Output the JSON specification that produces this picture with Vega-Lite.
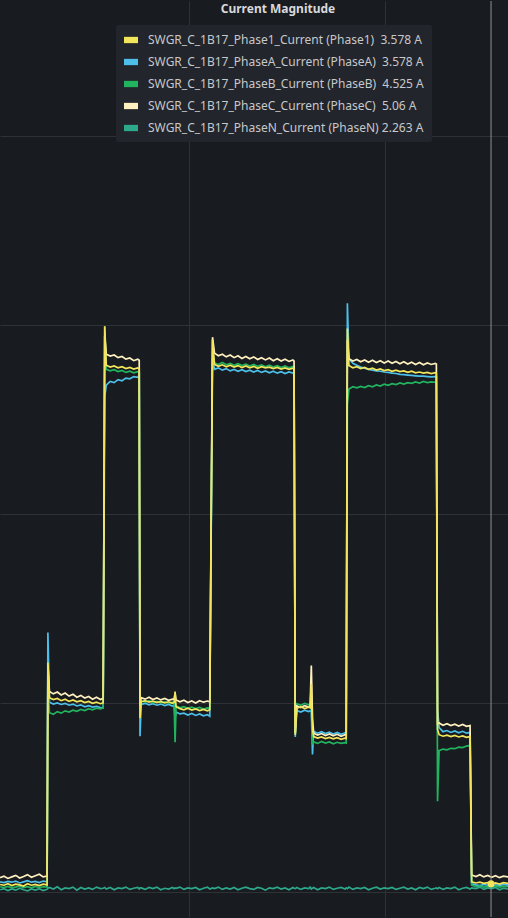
{
  "$schema": "https://vega.github.io/schema/vega-lite/v6.json",
  "width": 508,
  "height": 918,
  "autosize": {"type": "fit", "contains": "padding"},
  "padding": 0,
  "background": "#181b1f",
  "title": {"text": "Current Magnitude", "anchor": "middle", "dx": 24, "offset": -15, "fontSize": 12, "fontWeight": "bold", "color": "#d8d9dc", "font": "Noto Sans"},
  "config": {
    "view": {"stroke": null},
    "axis": {"domain": false, "ticks": false, "labels": false, "title": null, "gridColor": "#2e3136", "gridWidth": 1},
    "legend": {"orient": "none", "legendX": 116, "legendY": 24, "fillColor": "#22252b", "padding": 8, "cornerRadius": 2, "labelFont": "Noto Sans", "labelFontSize": 12, "labelColor": "#c7c8cc", "labelLimit": 400, "symbolType": "M-1,-0.45H1V0.45H-1Z", "symbolSize": 196, "symbolStrokeWidth": 0, "rowPadding": 9, "labelOffset": 10, "title": null}
  },
  "data": {"values": [
    {"t":0.36,"p1":0.20,"a":0.27,"b":0.14,"c":0.38,"n":0.06},
    {"t":0.56,"p1":0.18,"a":0.25,"b":0.12,"c":0.42,"n":0.09},
    {"t":0.76,"p1":0.22,"a":0.28,"b":0.15,"c":0.36,"n":0.04},
    {"t":0.96,"p1":0.17,"a":0.26,"b":0.11,"c":0.40,"n":0.08},
    {"t":1.16,"p1":0.21,"a":0.29,"b":0.13,"c":0.44,"n":0.05},
    {"t":1.36,"p1":0.19,"a":0.24,"b":0.16,"c":0.37,"n":0.10},
    {"t":1.56,"p1":0.16,"a":0.27,"b":0.12,"c":0.41,"n":0.06},
    {"t":1.76,"p1":0.22,"a":0.30,"b":0.14,"c":0.46,"n":0.03},
    {"t":1.96,"p1":0.18,"a":0.26,"b":0.11,"c":0.39,"n":0.08},
    {"t":2.16,"p1":0.20,"a":0.28,"b":0.15,"c":0.43,"n":0.05},
    {"t":2.36,"p1":0.17,"a":0.25,"b":0.12,"c":0.47,"n":0.09},
    {"t":2.56,"p1":0.21,"a":0.29,"b":0.14,"c":0.40,"n":0.04},
    {"t":2.76,"p1":0.19,"a":0.27,"b":0.13,"c":0.42,"n":0.07},
    {"t":2.80,"p1":6.07,"a":6.86,"b":5.60,"c":6.00,"n":0.10},
    {"t":2.88,"p1":5.14,"a":5.02,"b":4.74,"c":5.30,"n":0.12},
    {"t":3.08,"p1":5.09,"a":4.97,"b":4.70,"c":5.24,"n":0.08},
    {"t":3.28,"p1":5.12,"a":5.00,"b":4.77,"c":5.29,"n":0.14},
    {"t":3.48,"p1":5.06,"a":4.96,"b":4.73,"c":5.21,"n":0.06},
    {"t":3.68,"p1":5.10,"a":4.99,"b":4.79,"c":5.26,"n":0.11},
    {"t":3.88,"p1":5.04,"a":4.94,"b":4.76,"c":5.18,"n":0.09},
    {"t":4.08,"p1":5.08,"a":4.97,"b":4.81,"c":5.23,"n":0.13},
    {"t":4.28,"p1":5.03,"a":4.92,"b":4.78,"c":5.15,"n":0.05},
    {"t":4.48,"p1":5.06,"a":4.95,"b":4.83,"c":5.20,"n":0.12},
    {"t":4.68,"p1":5.01,"a":4.90,"b":4.80,"c":5.13,"n":0.08},
    {"t":4.88,"p1":5.04,"a":4.93,"b":4.85,"c":5.17,"n":0.11},
    {"t":5.08,"p1":4.99,"a":4.89,"b":4.82,"c":5.10,"n":0.07},
    {"t":5.28,"p1":5.02,"a":4.91,"b":4.86,"c":5.15,"n":0.13},
    {"t":5.48,"p1":4.98,"a":4.88,"b":4.84,"c":5.09,"n":0.09},
    {"t":5.62,"p1":5.00,"a":4.87,"b":4.87,"c":5.12,"n":0.10},
    {"t":5.70,"p1":14.96,"a":13.09,"b":14.96,"c":14.70,"n":0.12},
    {"t":5.78,"p1":13.93,"a":13.40,"b":13.82,"c":14.22,"n":0.08},
    {"t":5.98,"p1":13.88,"a":13.50,"b":13.78,"c":14.17,"n":0.12},
    {"t":6.18,"p1":13.91,"a":13.47,"b":13.81,"c":14.20,"n":0.06},
    {"t":6.38,"p1":13.86,"a":13.55,"b":13.76,"c":14.13,"n":0.11},
    {"t":6.58,"p1":13.89,"a":13.52,"b":13.79,"c":14.16,"n":0.09},
    {"t":6.78,"p1":13.84,"a":13.59,"b":13.74,"c":14.09,"n":0.13},
    {"t":6.98,"p1":13.87,"a":13.57,"b":13.77,"c":14.12,"n":0.07},
    {"t":7.18,"p1":13.83,"a":13.63,"b":13.73,"c":14.05,"n":0.10},
    {"t":7.38,"p1":13.86,"a":13.61,"b":13.76,"c":14.09,"n":0.12},
    {"t":7.46,"p1":13.84,"a":13.66,"b":13.74,"c":14.06,"n":0.08},
    {"t":7.50,"p1":4.60,"a":4.12,"b":4.90,"c":4.90,"n":0.11},
    {"t":7.56,"p1":5.03,"a":4.96,"b":5.05,"c":5.14,"n":0.11},
    {"t":7.76,"p1":5.06,"a":4.99,"b":5.02,"c":5.10,"n":0.07},
    {"t":7.96,"p1":5.02,"a":4.95,"b":5.06,"c":5.15,"n":0.12},
    {"t":8.16,"p1":5.05,"a":4.98,"b":5.01,"c":5.09,"n":0.09},
    {"t":8.36,"p1":5.01,"a":4.94,"b":5.04,"c":5.13,"n":0.13},
    {"t":8.56,"p1":5.04,"a":4.97,"b":5.00,"c":5.08,"n":0.06},
    {"t":8.76,"p1":5.00,"a":4.93,"b":5.03,"c":5.12,"n":0.10},
    {"t":8.96,"p1":5.03,"a":4.96,"b":4.99,"c":5.07,"n":0.08},
    {"t":9.16,"p1":4.99,"a":4.92,"b":5.02,"c":5.10,"n":0.12},
    {"t":9.24,"p1":5.01,"a":4.94,"b":5.00,"c":5.09,"n":0.09},
    {"t":9.29,"p1":5.30,"a":4.60,"b":3.96,"c":5.25,"n":0.11},
    {"t":9.34,"p1":4.90,"a":4.76,"b":4.92,"c":5.08,"n":0.10},
    {"t":9.54,"p1":4.85,"a":4.71,"b":4.87,"c":5.03,"n":0.13},
    {"t":9.74,"p1":4.82,"a":4.73,"b":4.90,"c":5.07,"n":0.07},
    {"t":9.94,"p1":4.86,"a":4.68,"b":4.86,"c":5.01,"n":0.11},
    {"t":10.14,"p1":4.81,"a":4.72,"b":4.89,"c":5.05,"n":0.09},
    {"t":10.34,"p1":4.84,"a":4.67,"b":4.85,"c":5.00,"n":0.12},
    {"t":10.54,"p1":4.80,"a":4.71,"b":4.88,"c":5.06,"n":0.06},
    {"t":10.74,"p1":4.83,"a":4.66,"b":4.84,"c":5.02,"n":0.10},
    {"t":10.94,"p1":4.79,"a":4.69,"b":4.87,"c":5.05,"n":0.13},
    {"t":11.06,"p1":4.82,"a":4.65,"b":4.86,"c":5.03,"n":0.08},
    {"t":11.20,"p1":14.60,"a":14.10,"b":14.30,"c":14.67,"n":0.11},
    {"t":11.30,"p1":13.95,"a":13.82,"b":13.99,"c":14.25,"n":0.09},
    {"t":11.50,"p1":13.90,"a":13.86,"b":13.95,"c":14.18,"n":0.13},
    {"t":11.70,"p1":13.94,"a":13.80,"b":14.00,"c":14.22,"n":0.07},
    {"t":11.90,"p1":13.89,"a":13.84,"b":13.94,"c":14.15,"n":0.11},
    {"t":12.10,"p1":13.93,"a":13.78,"b":13.98,"c":14.20,"n":0.08},
    {"t":12.30,"p1":13.88,"a":13.82,"b":13.93,"c":14.13,"n":0.12},
    {"t":12.50,"p1":13.92,"a":13.77,"b":13.97,"c":14.18,"n":0.06},
    {"t":12.70,"p1":13.87,"a":13.81,"b":13.92,"c":14.11,"n":0.10},
    {"t":12.90,"p1":13.91,"a":13.76,"b":13.96,"c":14.16,"n":0.13},
    {"t":13.10,"p1":13.86,"a":13.80,"b":13.91,"c":14.10,"n":0.09},
    {"t":13.30,"p1":13.90,"a":13.75,"b":13.95,"c":14.15,"n":0.07},
    {"t":13.50,"p1":13.85,"a":13.79,"b":13.90,"c":14.08,"n":0.12},
    {"t":13.70,"p1":13.89,"a":13.74,"b":13.94,"c":14.13,"n":0.10},
    {"t":13.90,"p1":13.86,"a":13.78,"b":13.89,"c":14.07,"n":0.05},
    {"t":14.10,"p1":13.88,"a":13.73,"b":13.93,"c":14.12,"n":0.11},
    {"t":14.30,"p1":13.84,"a":13.77,"b":13.88,"c":14.05,"n":0.09},
    {"t":14.50,"p1":13.87,"a":13.72,"b":13.92,"c":14.10,"n":0.13},
    {"t":14.70,"p1":13.83,"a":13.76,"b":13.87,"c":14.04,"n":0.08},
    {"t":14.90,"p1":13.86,"a":13.71,"b":13.91,"c":14.09,"n":0.11},
    {"t":15.10,"p1":13.82,"a":13.75,"b":13.86,"c":14.03,"n":0.06},
    {"t":15.30,"p1":13.85,"a":13.72,"b":13.90,"c":14.07,"n":0.12},
    {"t":15.36,"p1":13.83,"a":13.74,"b":13.88,"c":14.04,"n":0.10},
    {"t":15.42,"p1":4.15,"a":4.10,"b":4.20,"c":4.20,"n":0.09},
    {"t":15.50,"p1":4.86,"a":4.80,"b":4.98,"c":4.92,"n":0.12},
    {"t":15.70,"p1":4.90,"a":4.76,"b":4.94,"c":4.88,"n":0.07},
    {"t":15.90,"p1":4.85,"a":4.81,"b":4.99,"c":4.93,"n":0.11},
    {"t":16.10,"p1":4.89,"a":4.77,"b":4.95,"c":4.89,"n":0.09},
    {"t":16.18,"p1":4.87,"a":4.79,"b":4.97,"c":4.91,"n":0.13},
    {"t":16.24,"p1":5.50,"a":4.80,"b":5.00,"c":5.99,"n":0.08},
    {"t":16.30,"p1":4.30,"a":3.64,"b":3.90,"c":4.60,"n":0.10},
    {"t":16.36,"p1":4.11,"a":4.25,"b":3.97,"c":4.20,"n":0.12},
    {"t":16.56,"p1":4.07,"a":4.20,"b":3.93,"c":4.15,"n":0.06},
    {"t":16.76,"p1":4.10,"a":4.24,"b":3.98,"c":4.19,"n":0.11},
    {"t":16.96,"p1":4.06,"a":4.19,"b":3.94,"c":4.14,"n":0.09},
    {"t":17.16,"p1":4.09,"a":4.23,"b":3.97,"c":4.18,"n":0.13},
    {"t":17.36,"p1":4.05,"a":4.18,"b":3.92,"c":4.13,"n":0.07},
    {"t":17.56,"p1":4.08,"a":4.22,"b":3.96,"c":4.17,"n":0.10},
    {"t":17.76,"p1":4.04,"a":4.17,"b":3.93,"c":4.12,"n":0.12},
    {"t":17.96,"p1":4.07,"a":4.21,"b":3.95,"c":4.16,"n":0.08},
    {"t":18.02,"p1":4.06,"a":4.20,"b":3.94,"c":4.15,"n":0.11},
    {"t":18.08,"p1":14.90,"a":15.57,"b":12.90,"c":14.60,"n":0.09},
    {"t":18.16,"p1":13.92,"a":14.10,"b":13.30,"c":14.10,"n":0.13},
    {"t":18.36,"p1":13.86,"a":13.98,"b":13.36,"c":14.04,"n":0.07},
    {"t":18.56,"p1":13.89,"a":13.93,"b":13.33,"c":14.08,"n":0.11},
    {"t":18.76,"p1":13.84,"a":13.88,"b":13.37,"c":14.02,"n":0.09},
    {"t":18.96,"p1":13.87,"a":13.85,"b":13.34,"c":14.07,"n":0.12},
    {"t":19.16,"p1":13.82,"a":13.82,"b":13.39,"c":14.01,"n":0.06},
    {"t":19.36,"p1":13.85,"a":13.80,"b":13.36,"c":14.06,"n":0.10},
    {"t":19.56,"p1":13.80,"a":13.78,"b":13.41,"c":14.00,"n":0.13},
    {"t":19.76,"p1":13.83,"a":13.77,"b":13.38,"c":14.05,"n":0.08},
    {"t":19.96,"p1":13.79,"a":13.75,"b":13.43,"c":13.99,"n":0.11},
    {"t":20.16,"p1":13.81,"a":13.74,"b":13.40,"c":14.04,"n":0.09},
    {"t":20.36,"p1":13.77,"a":13.72,"b":13.44,"c":13.98,"n":0.12},
    {"t":20.56,"p1":13.80,"a":13.71,"b":13.42,"c":14.03,"n":0.07},
    {"t":20.76,"p1":13.76,"a":13.69,"b":13.46,"c":13.97,"n":0.10},
    {"t":20.96,"p1":13.78,"a":13.68,"b":13.43,"c":14.02,"n":0.13},
    {"t":21.16,"p1":13.74,"a":13.67,"b":13.47,"c":13.96,"n":0.08},
    {"t":21.36,"p1":13.77,"a":13.66,"b":13.45,"c":14.01,"n":0.11},
    {"t":21.56,"p1":13.73,"a":13.65,"b":13.49,"c":13.95,"n":0.06},
    {"t":21.76,"p1":13.75,"a":13.64,"b":13.46,"c":14.00,"n":0.12},
    {"t":21.96,"p1":13.72,"a":13.64,"b":13.50,"c":13.94,"n":0.09},
    {"t":22.16,"p1":13.74,"a":13.63,"b":13.47,"c":13.99,"n":0.13},
    {"t":22.36,"p1":13.71,"a":13.62,"b":13.49,"c":13.95,"n":0.07},
    {"t":22.56,"p1":13.73,"a":13.63,"b":13.48,"c":13.98,"n":0.10},
    {"t":22.62,"p1":13.71,"a":13.62,"b":13.47,"c":13.96,"n":0.11},
    {"t":22.68,"p1":4.30,"a":4.83,"b":2.40,"c":4.45,"n":0.09},
    {"t":22.76,"p1":4.16,"a":4.35,"b":3.74,"c":4.47,"n":0.12},
    {"t":22.96,"p1":4.12,"a":4.24,"b":3.78,"c":4.41,"n":0.07},
    {"t":23.16,"p1":4.15,"a":4.27,"b":3.76,"c":4.45,"n":0.11},
    {"t":23.36,"p1":4.11,"a":4.22,"b":3.80,"c":4.40,"n":0.09},
    {"t":23.56,"p1":4.14,"a":4.26,"b":3.79,"c":4.44,"n":0.13},
    {"t":23.76,"p1":4.10,"a":4.21,"b":3.83,"c":4.39,"n":0.06},
    {"t":23.96,"p1":4.13,"a":4.25,"b":3.82,"c":4.43,"n":0.10},
    {"t":24.16,"p1":4.09,"a":4.20,"b":3.86,"c":4.38,"n":0.12},
    {"t":24.34,"p1":4.11,"a":4.22,"b":3.88,"c":4.40,"n":0.08},
    {"t":24.42,"p1":0.27,"a":0.22,"b":0.18,"c":0.45,"n":0.11},
    {"t":24.64,"p1":0.24,"a":0.19,"b":0.14,"c":0.41,"n":0.09},
    {"t":24.84,"p1":0.26,"a":0.17,"b":0.16,"c":0.46,"n":0.13},
    {"t":25.04,"p1":0.23,"a":0.20,"b":0.13,"c":0.40,"n":0.07},
    {"t":25.24,"p1":0.25,"a":0.18,"b":0.15,"c":0.44,"n":0.11},
    {"t":25.44,"p1":0.22,"a":0.16,"b":0.12,"c":0.39,"n":0.09},
    {"t":25.64,"p1":0.24,"a":0.19,"b":0.16,"c":0.43,"n":0.12},
    {"t":25.84,"p1":0.21,"a":0.17,"b":0.13,"c":0.38,"n":0.06},
    {"t":26.04,"p1":0.25,"a":0.20,"b":0.15,"c":0.42,"n":0.10},
    {"t":26.28,"p1":0.23,"a":0.18,"b":0.14,"c":0.40,"n":0.08}
  ]},
  "layer": [
    {
      "transform": [{"fold": ["a", "b", "c", "n"], "as": ["series", "value"]}],
      "mark": {"type": "line", "strokeWidth": 1.7, "clip": true},
      "encoding": {
        "x": {"field": "t", "type": "quantitative", "scale": {"domain": [0.357, 26.275], "nice": false, "zero": false}, "axis": {"values": [10, 20], "grid": true}},
        "y": {"field": "value", "type": "quantitative", "scale": {"domain": [-0.66, 23.56], "nice": false, "zero": false}, "axis": {"values": [0, 5, 10, 15, 20], "grid": true}},
        "color": {
          "field": "series", "type": "nominal",
          "scale": {"domain": ["p1", "a", "b", "c", "n"], "range": ["#F2E55C", "#4CBFEA", "#22B35E", "#FFF0C0", "#2EA88B"]},
          "legend": {
            "labelExpr": "{'p1':'SWGR_C_1B17_Phase1_Current (Phase1)\u00a0 3.578 A','a':'SWGR_C_1B17_PhaseA_Current (PhaseA)\u00a0 3.578 A','b':'SWGR_C_1B17_PhaseB_Current (PhaseB)\u00a0 4.525 A','c':'SWGR_C_1B17_PhaseC_Current (PhaseC)\u00a0 5.06 A','n':'SWGR_C_1B17_PhaseN_Current (PhaseN) 2.263 A'}[datum.value]",
            "encode": {"symbols": {"update": {"fill": {"scale": "color", "field": "value"}, "fillOpacity": {"value": 1}, "strokeWidth": {"value": 0}}}}
          }
        }
      }
    },
    {
      "transform": [{"fold": ["p1"], "as": ["series", "value"]}],
      "mark": {"type": "line", "strokeWidth": 1.7, "clip": true},
      "encoding": {
        "x": {"field": "t", "type": "quantitative"},
        "y": {"field": "value", "type": "quantitative"},
        "color": {"field": "series", "type": "nominal"}
      }
    },
    {
      "data": {"values": [{"t": 25.41}]},
      "mark": {"type": "rule", "color": "#8f9196", "strokeWidth": 1},
      "encoding": {"x": {"field": "t", "type": "quantitative"}}
    },
    {
      "data": {"values": [{"t": 25.41, "value": 0.22}]},
      "mark": {"type": "point", "filled": true, "color": "#F2E55C", "size": 50, "opacity": 1},
      "encoding": {"x": {"field": "t", "type": "quantitative"}, "y": {"field": "value", "type": "quantitative"}}
    }
  ]
}
